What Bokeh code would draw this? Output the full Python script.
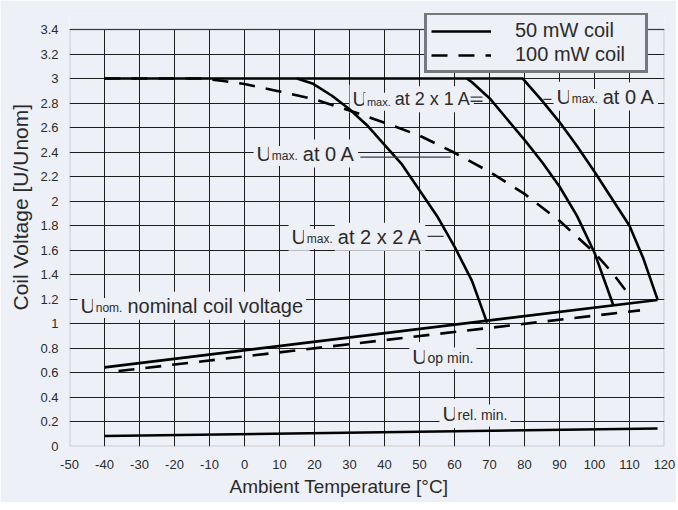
from bokeh.plotting import figure
from bokeh.models import (Range1d, FixedTicker, Legend, LegendItem, Label, Title,
                          BoxAnnotation, Grid)
from bokeh.embed import file_html
from bokeh.resources import INLINE

# ---------------- data ----------------
x_ticks = [-50, -40, -30, -20, -10, 0, 10, 20, 30, 40, 50, 60, 70, 80, 90, 100, 110, 120]
x_tick_labels = ["-50", "-40", "-30", "-20", "-10", "0", "10", "20", "30", "40", "50", "60",
                 "70", "80", "90", "100", "110", "120"]
y_ticks = [0, 0.2, 0.4, 0.6, 0.8, 1.0, 1.2, 1.4, 1.6, 1.8, 2.0, 2.2, 2.4, 2.6, 2.8, 3.0, 3.2, 3.4]
y_tick_labels = ["0", "0.2", "0.4", "0.6", "0.8", "1", "1.2", "1.4", "1.6", "1.8", "2",
                 "2.2", "2.4", "2.6", "2.8", "3", "3.2", "3.4"]

# 50 mW coil (solid)
t_max0_50 = [-40, 79.5, 85, 90, 95, 100, 105, 110, 114, 118]
u_max0_50 = [3.0, 3.0, 2.82, 2.645, 2.45, 2.24, 2.02, 1.80, 1.53, 1.2]
t_max2x1_50 = [63.5, 65, 70, 75, 80, 85, 90, 95, 100, 105.4]
u_max2x1_50 = [3.0, 2.97, 2.84, 2.67, 2.50, 2.32, 2.12, 1.88, 1.58, 1.15]
t_max2x2_50 = [15, 19.4, 25, 30, 35, 40, 45, 50, 55, 60, 65, 69.3]
u_max2x2_50 = [3.0, 2.96, 2.86, 2.75, 2.62, 2.46, 2.30, 2.09, 1.88, 1.63, 1.35, 1.01]
t_opmin_50 = [-40, 118]
u_opmin_50 = [0.645, 1.195]
t_relmin_50 = [-40, 118]
u_relmin_50 = [0.085, 0.147]

# 100 mW coil (dashed)
t_max0_100 = [-40, -12, -6, 0, 10, 20, 30, 40, 50, 60, 70, 80, 90, 100, 105, 109.5]
u_max0_100 = [3.0, 3.0, 2.98, 2.955, 2.895, 2.83, 2.74, 2.64, 2.535, 2.395, 2.24, 2.06,
              1.84, 1.58, 1.42, 1.25]
t_opmin_100 = [-36, 113]
u_opmin_100 = [0.615, 1.11]

legend_labels = ["50 mW coil", "100 mW coil"]
x_title = "Ambient Temperature [°C]"
y_title = "Coil Voltage [U/Unom]"

# ---------------- style ----------------
BG = "#eef0f7"
TXT = "#2b2b2b"
FONT = "Liberation Sans"
Y_TOP = 3.4 + 16 / (417 / 3.4)   # room above the chart area for the legend

p = figure(width=676, height=502, output_backend="svg", toolbar_location=None,
           x_range=Range1d(-50, 120), y_range=Range1d(0, Y_TOP),
           min_border_left=69, min_border_right=12, min_border_top=13, min_border_bottom=56,
           background_fill_color=BG, border_fill_color=BG)
p.outline_line_color = None

p.xaxis.ticker = FixedTicker(ticks=x_ticks)
p.yaxis.ticker = FixedTicker(ticks=y_ticks)
p.xaxis.major_label_overrides = {v: s for v, s in zip(x_ticks, x_tick_labels)}
p.yaxis.major_label_overrides = {v: s for v, s in zip(y_ticks, y_tick_labels)}
for ax in (p.xaxis[0], p.yaxis[0]):
    ax.axis_line_color = None
    ax.major_tick_line_color = None
    ax.minor_tick_line_color = None
    ax.major_label_text_font = FONT
    ax.major_label_text_font_size = "13px"
    ax.major_label_text_color = TXT
p.xaxis.major_label_standoff = 7
p.yaxis.major_label_standoff = 5

GRID_C = "#1e1e1e"
p.ygrid.ticker = FixedTicker(ticks=y_ticks)
p.ygrid.grid_line_color = GRID_C
if "cross_bounds" in Grid.properties():
    p.xgrid.ticker = FixedTicker(ticks=x_ticks)
    p.xgrid.cross_bounds = (0, 3.4)
    p.xgrid.grid_line_color = GRID_C
else:
    p.xgrid.visible = False
    p.segment(x_ticks, [0] * len(x_ticks), x_ticks, [3.4] * len(x_ticks),
              line_color=GRID_C, line_width=1, level="underlay")

LW = 2.6
DASH = "16 11"
r50 = p.line(t_max0_50, u_max0_50, line_color="black", line_width=LW)
p.line(t_max2x1_50, u_max2x1_50, line_color="black", line_width=LW)
p.line(t_max2x2_50, u_max2x2_50, line_color="black", line_width=LW)
p.line(t_opmin_50, u_opmin_50, line_color="black", line_width=LW)
p.line(t_relmin_50, u_relmin_50, line_color="black", line_width=LW)
r100 = p.line(t_max0_100, u_max0_100, line_color="black", line_width=LW, line_dash=DASH)
p.line(t_opmin_100, u_opmin_100, line_color="black", line_width=LW, line_dash=DASH)

# leader lines of the annotations
lead_x0 = [64.6, 64.6, 33.1, 85.4, 52.3]
lead_x1 = [68.0, 68.0, 58.9, 87.7, 56.9]
lead_y = [2.848, 2.815, 2.36, 2.83, 1.713]
p.segment(lead_x0, lead_y, lead_x1, lead_y, line_color="#3a3a3a", line_width=1.3)

# frame of the chart area
p.add_layout(BoxAnnotation(left=-50, right=120, bottom=0, top=3.4, fill_alpha=0,
                           line_color="#6e6e6e", line_width=2))

# ---------------- annotations ----------------
W = {' ': .278, '.': .278, 'a': .556, 't': .278, 'x': .5, 'm': .833, 'A': .667, 'U': .722,
     'n': .556, 'o': .556, 'i': .222, 'l': .222, 'c': .5, 'v': .5, 'g': .556, 'e': .556,
     'p': .556, 'r': .333, '0': .556, '1': .556, '2': .556}
DESC = 0.212
PAD = 3


def tw(s, size):
    return sum(W.get(ch, .556) for ch in s) * size


def note(x, y, sub, rest, usize=21, ssize=12, rsize=20, gap=5):
    pieces = [("U", usize, 0), (sub, ssize, 0)]
    if rest:
        pieces.append((rest, rsize, gap))
    off = 0
    for txt, size, g in pieces:
        off += g
        p.add_layout(Label(x=x, y=y, x_offset=off, y_offset=-(DESC * size + PAD), text=txt,
                           text_font=FONT, text_font_size=f"{size}px", text_color=TXT,
                           text_align="left", text_baseline="bottom",
                           background_fill_color=BG, background_fill_alpha=1,
                           padding=PAD, level="underlay"))
        off += tw(txt, size)


note(30.0, 2.781, "max.", "at 2 x 1 A", usize=20, ssize=11, rsize=18, gap=4)
note(2.6, 2.333, "max.", "at 0 A")
note(88.3, 2.798, "max.", "at 0 A")
note(12.6, 1.656, "max.", "at 2 x 2 A")
note(-47.7, 1.093, "nom.", "nominal coil voltage")
note(47.1, 0.677, "op min.", "", ssize=14)
note(55.7, 0.212, "rel. min.", "", ssize=14)

# axis titles
p.add_layout(Title(text=y_title, align="left", offset=136, standoff=12, text_font=FONT,
                   text_font_size="21px", text_font_style="normal", text_color=TXT), "left")
p.add_layout(Title(text=x_title, align="left", offset=160, standoff=5, text_font=FONT,
                   text_font_size="19px", text_font_style="normal", text_color=TXT), "below")

legend = Legend(items=[LegendItem(label=legend_labels[0], renderers=[r50]),
                       LegendItem(label=legend_labels[1], renderers=[r100])],
                location=(355, 373), orientation="vertical",
                border_line_color="black", border_line_width=3,
                background_fill_color=BG, background_fill_alpha=1,
                label_text_font=FONT, label_text_font_size="20px", label_text_color=TXT,
                glyph_width=60, glyph_height=20, label_height=20, label_width=126,
                label_standoff=24, padding=4, spacing=1, margin=0)
p.add_layout(legend, "center")

open("out.html", "w").write(file_html(p, INLINE))
